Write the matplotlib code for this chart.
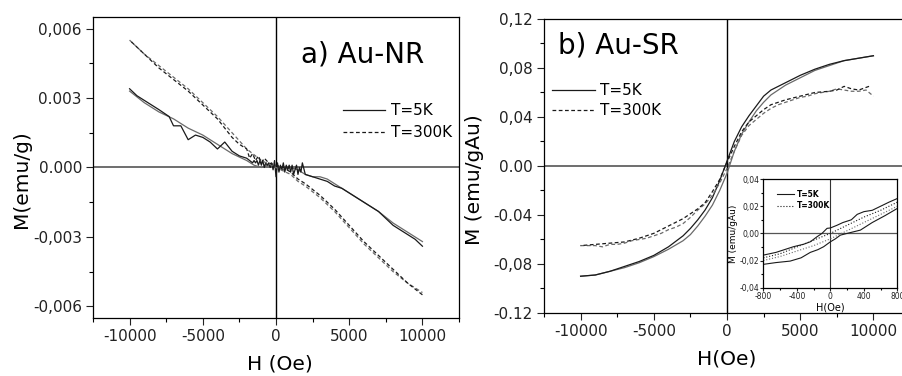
import matplotlib.pyplot as plt
from matplotlib.ticker import MultipleLocator

plt.rcParams['font.family'] = 'DejaVu Sans'

# ---- a) Au-NR data (H in Oe, M in emu/g) ----
nr_5k_down_h = [10000, 9500, 9000, 8500, 8000, 7500, 7000, 6500, 6000, 5500, 5000, 4500, 4000, 3500, 3000, 2500, 2000,
                1800, 1700, 1600, 1500, 1400, 1300, 1200, 1100, 1000, 900, 800, 700, 600, 500, 400, 300, 200, 100, 0,
                -100, -200, -300, -400, -500, -600, -700, -800, -900, -1000, -1100, -1200, -1300, -1400, -1500, -1600,
                -2000, -2500, -3000, -3500, -4000, -4500, -5000, -5500, -6000, -6500, -7000, -7300, -8000, -8500, -9000, -9500, -10000]
nr_5k_down_m = [-0.0034, -0.0031, -0.0029, -0.0027, -0.0025, -0.0022, -0.0019, -0.0017, -0.0015, -0.0013, -0.0011, -0.0009, -0.0008, -0.0006, -0.0005, -0.0004, -0.0003,
                0.0002, -0.0002, 0.0000, -0.0003, 0.0001, -0.0001, -0.0003, 0.0001, -0.0002, 0.0001, -0.0001, 0.0001, -0.0002, 0.0002, -0.0001, 0.0001, -0.0002, 0.0002, -0.0004,
                0.0003, -0.0001, 0.0002, 0.0000, 0.0002, 0.0001, 0.0002, 0.0000, 0.0003, 0.0001, 0.0003, 0.0001, 0.0003, 0.0002, 0.0003, 0.0002,
                0.0004, 0.0005, 0.0007, 0.0011, 0.0008, 0.0011, 0.0013, 0.0014, 0.0012, 0.0018, 0.0018, 0.0022, 0.0025, 0.0027, 0.0029, 0.0031, 0.0034]
nr_5k_up_h = [-10000, -9000, -8000, -7000, -6000, -5000, -4000, -3000, -2000, -1500, -1000, -500, 0,
              500, 1000, 1500, 2000, 2500, 3000, 3500, 4000, 5000, 6000, 7000, 8000, 9000, 10000]
nr_5k_up_m = [0.0033, 0.0028, 0.0024, 0.0021, 0.0017, 0.0014, 0.0010, 0.0006, 0.0003, 0.0001, 0.0000, 0.0001, 0.0000,
              -0.0001, 0.0000, -0.0001, -0.0003, -0.0004, -0.0004, -0.0005, -0.0007, -0.0011, -0.0015, -0.0019, -0.0024, -0.0028, -0.0032]
nr_300k_down_h = [10000, 9000, 8000, 7000, 6000, 5000, 4000, 3000, 2000, 1500, 1000, 500, 0, -500, -800, -1000,
                  -1200, -1400, -1600, -1800, -2000, -2500, -3000, -3500, -4000, -5000, -6000, -7000, -8000, -9000, -10000]
nr_300k_down_m = [-0.0055, -0.0050, -0.0044, -0.0038, -0.0032, -0.0025, -0.0018, -0.0012, -0.0007, -0.0005, -0.0002, 0.0000, 0.0001, 0.0002, 0.0004, 0.0002,
                  0.0005, 0.0003, 0.0006, 0.0004, 0.0008, 0.0010, 0.0013, 0.0017, 0.0021, 0.0027, 0.0033, 0.0038, 0.0043, 0.0049, 0.0055]
nr_300k_up_h = [-10000, -9000, -8000, -7000, -6000, -5000, -4000, -3000, -2000, -1000, 0,
                1000, 1500, 2000, 3000, 4000, 5000, 6000, 7000, 8000, 9000, 10000]
nr_300k_up_m = [0.0055, 0.0049, 0.0044, 0.0039, 0.0034, 0.0028, 0.0022, 0.0015, 0.0008, 0.0003, 0.0000,
                -0.0003, -0.0006, -0.0008, -0.0013, -0.0019, -0.0026, -0.0033, -0.0039, -0.0045, -0.0050, -0.0054]

# ---- b) Au-SR data (H in Oe, M in emu/gAu) ----
sr_5k_up_h = [-10000, -9000, -8000, -7000, -6000, -5000, -4000, -3000, -2500, -2000, -1500, -1000, -500, 0,
              500, 1000, 1500, 2000, 2500, 3000, 4000, 5000, 6000, 7000, 8000, 9000, 10000]
sr_5k_up_m = [-0.090, -0.089, -0.086, -0.083, -0.079, -0.074, -0.068, -0.061, -0.056, -0.049, -0.041, -0.032, -0.020, -0.006,
              0.012, 0.026, 0.036, 0.045, 0.052, 0.058, 0.066, 0.072, 0.078, 0.082, 0.086, 0.088, 0.090]
sr_5k_down_h = [10000, 9000, 8000, 7000, 6000, 5000, 4000, 3000, 2500, 2000, 1500, 1000, 500, 0,
                -500, -1000, -1500, -2000, -2500, -3000, -4000, -5000, -6000, -7000, -8000, -9000, -10000]
sr_5k_down_m = [0.090, 0.088, 0.086, 0.083, 0.079, 0.074, 0.068, 0.062, 0.057, 0.049, 0.041, 0.032, 0.020, 0.004,
                -0.012, -0.026, -0.036, -0.044, -0.051, -0.057, -0.066, -0.073, -0.078, -0.082, -0.086, -0.089, -0.090]
sr_300k_up_h = [-10000, -9000, -8500, -8000, -7500, -7000, -6500, -6000, -5500, -5000, -4500, -4000, -3500, -3000, -2500, -2000, -1500, -1000, -500, 0,
                500, 1000, 1500, 2000, 2500, 3000, 3500, 4000, 4500, 5000, 5500, 6000, 6500, 7000, 7500, 8000, 8500, 9000, 9500, 10000]
sr_300k_up_m = [-0.065, -0.065, -0.066, -0.064, -0.064, -0.063, -0.061, -0.060, -0.059, -0.057, -0.055, -0.052, -0.050, -0.047, -0.042, -0.036, -0.031, -0.024, -0.014, -0.002,
                0.012, 0.025, 0.033, 0.038, 0.043, 0.047, 0.050, 0.052, 0.054, 0.056, 0.057, 0.059, 0.060, 0.061, 0.063, 0.062, 0.061, 0.061, 0.062, 0.057]
sr_300k_down_h = [9700, 9000, 8500, 8000, 7500, 7000, 6000, 5000, 4000, 3000, 2500, 2000, 1500, 1000, 500, 0,
                  -500, -1000, -1500, -2000, -2500, -3000, -4000, -5000, -6000, -7000, -8000, -9000, -10000]
sr_300k_down_m = [0.065, 0.062, 0.063, 0.065, 0.062, 0.061, 0.060, 0.057, 0.054, 0.050, 0.046, 0.041, 0.036, 0.028, 0.016, 0.003,
                  -0.011, -0.021, -0.030, -0.035, -0.039, -0.043, -0.049, -0.055, -0.059, -0.062, -0.063, -0.064, -0.065]

# ---- inset (low field zoom of Au-SR) ----
in_5k_upper_h = [800, 700, 600, 500, 400, 320, 250, 150, 80, 0, -40, -100, -160, -240, -320, -440, -550, -650, -800]
in_5k_upper_m = [0.0257, 0.023, 0.020, 0.017, 0.016, 0.014, 0.010, 0.008, 0.006, 0.004, 0.0037, 0.000, -0.0025, -0.0062, -0.008, -0.0098, -0.012, -0.014, -0.016]
in_5k_lower_h = [-800, -650, -480, -350, -240, -150, -80, 0, 60, 119, 200, 358, 500, 650, 800]
in_5k_lower_m = [-0.0228, -0.0215, -0.0204, -0.018, -0.014, -0.012, -0.0098, -0.0062, -0.004, -0.0013, 0.000, 0.0024, 0.008, 0.013, 0.0184]
in_300k_h = [-800, -600, -400, -200, 0, 200, 400, 600, 800]
in_300k_a_m = [-0.018, -0.015, -0.010, -0.005, 0.000, 0.006, 0.012, 0.017, 0.023]
in_300k_b_m = [-0.020, -0.017, -0.013, -0.009, -0.004, 0.002, 0.008, 0.014, 0.020]

# tick labels, written as in the original figure
h_ticks = [-10000, -5000, 0, 5000, 10000]
h_labels = ['-10000', '-5000', '0', '5000', '10000']
nr_yticks = [0.006, 0.003, 0.0, -0.003, -0.006]
nr_ylabels = ['0,006', '0.003', '0.000', '-0,003', '-0,006']
sr_yticks = [0.12, 0.08, 0.04, 0.0, -0.04, -0.08, -0.12]
sr_ylabels = ['0,12', '0,08', '0,04', '0.00', '-0.04', '-0,08', '-0.12']
in_xticks = [-800, -400, 0, 400, 800]
in_xlabels = ['-800', '-400', '0', '400', '800']
in_yticks = [0.04, 0.02, 0.0, -0.02, -0.04]
in_ylabels = ['0,04', '0,02', '0,00', '-0,02', '-0,04']

dash = (0, (3, 2))
dark = '#1a1a1a'
grey = '#6a6a6a'

fig = plt.figure(figsize=(9.02, 3.76), dpi=100)
ax1 = fig.add_axes([0.1031, 0.1543, 0.4058, 0.8005])
ax2 = fig.add_axes([0.6031, 0.1676, 0.4058, 0.7819])
ax3 = fig.add_axes([0.8463, 0.2348, 0.1486, 0.2890])


def style_axis(ax, size, major, minor, pad):
    ax.tick_params(which='major', direction='out', length=major, width=0.8,
                   labelsize=size, pad=pad, colors='#222222', top=False, right=False)
    ax.tick_params(which='minor', direction='out', length=minor, width=0.8,
                   top=False, right=False)
    for s in ax.spines.values():
        s.set_linewidth(0.9)


# a) Au-NR
ax1.axhline(0, color='#555555', lw=1.2, zorder=1)
ax1.axvline(0, color='black', lw=1.0, zorder=1)
ax1.plot(nr_5k_up_h, nr_5k_up_m, color=grey, lw=0.9)
ax1.plot(nr_5k_down_h, nr_5k_down_m, color=dark, lw=0.9, label='T=5K')
ax1.plot(nr_300k_up_h, nr_300k_up_m, color=grey, lw=0.9, ls=dash)
ax1.plot(nr_300k_down_h, nr_300k_down_m, color=dark, lw=0.9, ls=dash, label='T=300K')
ax1.set_xlim(-12500, 12500)
ax1.set_ylim(-0.0065, 0.0065)
ax1.set_xticks(h_ticks, labels=h_labels)
ax1.set_yticks(nr_yticks, labels=nr_ylabels)
ax1.xaxis.set_minor_locator(MultipleLocator(2500))
ax1.yaxis.set_minor_locator(MultipleLocator(0.0015))
style_axis(ax1, 11, 5, 3, 3)
ax1.set_xlabel('H (Oe)', fontsize=14.5)
ax1.set_ylabel('M(emu/g)', fontsize=14.5)
ax1.xaxis.set_label_coords(0.51, -0.12)
ax1.yaxis.set_label_coords(-0.17, 0.46)
ax1.text(0.569, 0.85, 'a) Au-NR', transform=ax1.transAxes, fontsize=20, va='baseline')
ax1.legend(loc='upper left', bbox_to_anchor=(0.682, 0.713), frameon=False, fontsize=11,
           handlelength=2.8, handletextpad=0.35, labelspacing=0.45, borderpad=0, borderaxespad=0)

# b) Au-SR
ax2.axhline(0, color='#555555', lw=1.2, zorder=1)
ax2.axvline(0, color='black', lw=1.0, zorder=1)
ax2.plot(sr_5k_up_h, sr_5k_up_m, color=grey, lw=0.9)
ax2.plot(sr_5k_down_h, sr_5k_down_m, color=dark, lw=0.9, label='T=5K')
ax2.plot(sr_300k_up_h, sr_300k_up_m, color=grey, lw=0.9, ls=dash)
ax2.plot(sr_300k_down_h, sr_300k_down_m, color=dark, lw=0.9, ls=dash, label='T=300K')
ax2.set_xlim(-12500, 12500)
ax2.set_ylim(-0.12, 0.12)
ax2.set_xticks(h_ticks, labels=h_labels)
ax2.set_yticks(sr_yticks, labels=sr_ylabels)
ax2.xaxis.set_minor_locator(MultipleLocator(2500))
ax2.yaxis.set_minor_locator(MultipleLocator(0.02))
style_axis(ax2, 11, 5, 3, 3)
ax2.set_xlabel('H(Oe)', fontsize=14.5)
ax2.set_ylabel('M (emu/gAu)', fontsize=14.5)
ax2.xaxis.set_label_coords(0.5, -0.125)
ax2.yaxis.set_label_coords(-0.165, 0.455)
ax2.text(0.038, 0.884, 'b) Au-SR', transform=ax2.transAxes, fontsize=20, va='baseline')
ax2.legend(loc='upper left', bbox_to_anchor=(0.022, 0.782), frameon=False, fontsize=11,
           handlelength=2.8, handletextpad=0.35, labelspacing=0.35, borderpad=0, borderaxespad=0)

# inset
ax3.axhline(0, color='#555555', lw=0.9, zorder=1)
ax3.axvline(0, color='#333333', lw=0.8, zorder=1)
ax3.plot(in_5k_upper_h, in_5k_upper_m, color=dark, lw=0.8, label='T=5K')
ax3.plot(in_5k_lower_h, in_5k_lower_m, color=dark, lw=0.8)
ax3.plot(in_300k_h, in_300k_a_m, color=dark, lw=0.8, ls=':', label='T=300K')
ax3.plot(in_300k_h, in_300k_b_m, color=grey, lw=0.8, ls=':')
ax3.set_xlim(-800, 800)
ax3.set_ylim(-0.04, 0.04)
ax3.set_xticks(in_xticks, labels=in_xlabels)
ax3.set_yticks(in_yticks, labels=in_ylabels)
ax3.xaxis.set_minor_locator(MultipleLocator(200))
ax3.yaxis.set_minor_locator(MultipleLocator(0.01))
style_axis(ax3, 5.5, 2, 1.2, 1)
ax3.set_xlabel('H(Oe)', fontsize=7, labelpad=1)
ax3.set_ylabel('M (emu/gAu)', fontsize=6.5, labelpad=1)
ax3.legend(loc='upper left', bbox_to_anchor=(0.1, 0.9), frameon=False,
           prop={'size': 5.5, 'weight': 'bold'},
           handlelength=2.2, handletextpad=0.4, labelspacing=0.3, borderpad=0, borderaxespad=0)

fig.savefig('out.png', dpi=100)
